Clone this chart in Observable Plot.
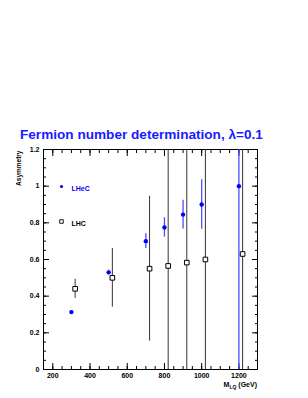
<!DOCTYPE html>
<html>
<head>
<meta charset="utf-8">
<script src="https://cdn.jsdelivr.net/npm/d3@7"></script>
<script src="https://cdn.jsdelivr.net/npm/@observablehq/plot@0.6"></script>
<style>
  html, body { margin: 0; padding: 0; background: #fff; width: 308px; height: 398px; overflow: hidden; }
  #title { height: 143px; box-sizing: border-box; padding-left: 20px; padding-top: 128px;
           font-family: "Liberation Sans", Arial, sans-serif; font-weight: bold; font-size: 13.6px;
           color: #1a1aff; line-height: 14px; white-space: nowrap; }
  #chart svg { display: block; }
  #chart text { -webkit-font-smoothing: antialiased; }
</style>
</head>
<body>
<div id="title">Fermion number determination, λ=0.1</div>
<div id="chart"></div>
<script>
// LHeC (filled blue circles)
const lhecMass = [300, 500, 700, 800, 900, 1000, 1200];
const lhecAsym = [0.313, 0.53, 0.70, 0.775, 0.845, 0.90, 1.00];
const lhecErr  = [0.004, 0.012, 0.04, 0.053, 0.078, 0.135, 2.0];
// LHC (open squares)
const lhcMass = [320, 520, 720, 820, 920, 1020, 1220];
const lhcAsym = [0.44, 0.50, 0.55, 0.565, 0.583, 0.60, 0.63];
const lhcErr  = [0.052, 0.16, 0.395, 2.0, 2.0, 2.0, 2.0];
// axes
const xTicks = [200, 400, 600, 800, 1000, 1200];
const xMinor = d3.range(150, 1301, 50);
const yTicks = [0, 0.2, 0.4, 0.6, 0.8, 1, 1.2];
const yMinor = d3.range(0, 1.2001, 0.05);
const legendLabels = ["LHeC", "LHC"];

const lhec = lhecMass.map((m, i) => ({m, a: lhecAsym[i], e: lhecErr[i]}));
const lhc = lhcMass.map((m, i) => ({m, a: lhcAsym[i], e: lhcErr[i]}));

const font = "Liberation Sans, Arial, sans-serif";
const blue = "#0000ff";
const fmt = d => String(+d.toFixed(2));

const plot = Plot.plot({
  width: 308,
  height: 255,
  marginTop: 6,
  marginBottom: 29,
  marginLeft: 43,
  marginRight: 51,
  style: {fontFamily: font, background: "white", color: "black"},
  x: {domain: [150, 1300], label: null},
  y: {domain: [0, 1.2], label: null},
  marks: [
    // inward ticks (tick-only axes have fill none → no text)
    Plot.axisX({anchor: "bottom", ticks: xMinor, tickSize: -3, fill: "none", label: null}),
    Plot.axisX({anchor: "bottom", ticks: xTicks, tickSize: -6, fill: "none", label: null}),
    Plot.text(xTicks, {x: d => d, frameAnchor: "bottom", dy: 8, text: fmt, fontWeight: "bold", fontSize: 7, fill: "black", clip: false}),
    Plot.axisX({anchor: "top", ticks: xMinor, tickSize: -3, fill: "none", label: null}),
    Plot.axisX({anchor: "top", ticks: xTicks, tickSize: -6, fill: "none", label: null}),
    Plot.axisY({anchor: "left", ticks: yMinor, tickSize: -3, fill: "none", label: null}),
    Plot.axisY({anchor: "left", ticks: yTicks, tickSize: -6, fill: "none", label: null}),
    Plot.axisY({anchor: "left", ticks: yTicks, tickSize: 0, tickPadding: 4, tickFormat: fmt, fontWeight: "bold", fontSize: 7, fill: "black", stroke: "none", label: null}),
    Plot.axisY({anchor: "right", ticks: yMinor, tickSize: -3, fill: "none", label: null}),
    Plot.axisY({anchor: "right", ticks: yTicks, tickSize: -6, fill: "none", label: null}),
    Plot.frame({stroke: "black"}),
    // error bars
    Plot.ruleX(lhc, {x: "m", y1: d => d.a - d.e, y2: d => d.a + d.e, stroke: "#333", strokeWidth: 1, clip: true}),
    Plot.ruleX(lhec, {x: "m", y1: d => d.a - d.e, y2: d => d.a + d.e, stroke: "#4d4dff", strokeWidth: 1.3, clip: true}),
    // points
    Plot.dot(lhc, {x: "m", y: "a", symbol: "square", r: 2.6, fill: "white", stroke: "black", strokeWidth: 1}),
    Plot.dot(lhec, {x: "m", y: "a", r: 2.2, fill: blue, stroke: null}),
    // legend
    Plot.dot([legendLabels[0]], {frameAnchor: "top-left", dx: 18, dy: 37, r: 1.6, fill: blue}),
    Plot.text([legendLabels[0]], {frameAnchor: "top-left", dx: 28, dy: 37, text: d => d, textAnchor: "start", fill: blue, fontWeight: "bold", fontSize: 7}),
    Plot.dot([legendLabels[1]], {frameAnchor: "top-left", dx: 18, dy: 72, symbol: "square", r: 2, fill: "white", stroke: "black", strokeWidth: 0.9}),
    Plot.text([legendLabels[1]], {frameAnchor: "top-left", dx: 28, dy: 72, text: d => d, textAnchor: "start", fill: "black", fontWeight: "bold", fontSize: 7}),
    // y title
    Plot.text(["Asymmetry"], {frameAnchor: "top-left", dx: -27, dy: 1, rotate: -90, text: d => d, textAnchor: "end", fontWeight: "bold", fontSize: 6.5})
  ]
});
document.getElementById("chart").appendChild(plot);

// x title with subscript, right aligned at frame edge
const xs = plot.scale("x");
const xr = xs.apply(1300);
const t = d3.select(plot).append("text")
  .attr("x", xr).attr("y", 244)
  .attr("text-anchor", "end")
  .attr("font-family", font).attr("font-weight", "bold").attr("font-size", 7);
t.append("tspan").text("M");
t.append("tspan").attr("dy", 2).attr("font-size", 5).text("LQ");
t.append("tspan").attr("dy", -2).text(" (GeV)");
</script>
</body>
</html>
